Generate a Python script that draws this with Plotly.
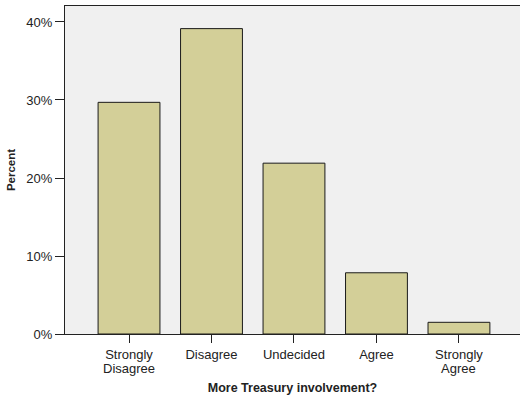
import plotly.graph_objects as go

categories = ["Strongly Disagree", "Disagree", "Undecided", "Agree", "Strongly Agree"]
percent = [29.7, 39.15, 21.9, 7.85, 1.5]
y_ticks = [0, 10, 20, 30, 40]
y_tick_text = ["0%", "10%", "20%", "30%", "40%"]

font_family = "Liberation Sans, Arial, sans-serif"
x_pos = list(range(len(categories)))

# Two-word categories wrap onto a second, tightly spaced line
first_lines = [c.split(" ")[0] for c in categories]
second_lines = [" ".join(c.split(" ")[1:]) for c in categories]

fig = go.Figure(
    go.Bar(
        x=x_pos,
        y=percent,
        width=0.75,
        marker=dict(color="#d3cf98", line=dict(color="#1a1a1a", width=1)),
        hoverinfo="skip",
    )
)

for xp, txt in zip(x_pos, second_lines):
    if txt:
        fig.add_annotation(
            x=xp, xref="x", y=0, yref="paper",
            yanchor="top", yshift=-25.5,
            text=txt, showarrow=False, borderpad=0,
            font=dict(size=13, color="#222"),
        )

fig.update_layout(
    width=520,
    height=396,
    margin=dict(l=65, r=0, t=6, b=62),
    paper_bgcolor="white",
    plot_bgcolor="#f0f0f0",
    showlegend=False,
    font=dict(family=font_family, size=13, color="#222"),
)

fig.update_xaxes(
    range=[-0.776, 4.74],
    tickmode="array",
    tickvals=x_pos,
    ticktext=first_lines,
    ticks="outside",
    ticklen=8,
    tickcolor="#222",
    showline=True,
    linecolor="#222",
    linewidth=1,
    mirror=True,
    showgrid=False,
    zeroline=False,
    tickfont=dict(size=13),
    title=dict(text="<b>More Treasury involvement?</b>", font=dict(size=12.5), standoff=22),
)

fig.update_yaxes(
    range=[0, 42.05],
    tickmode="array",
    tickvals=y_ticks,
    ticktext=y_tick_text,
    ticks="outside",
    ticklen=9,
    tickcolor="#222",
    showline=True,
    linecolor="#222",
    linewidth=1,
    showgrid=False,
    zeroline=False,
    tickfont=dict(size=13),
    title=dict(text="<b>Percent</b>", font=dict(size=11.5), standoff=8),
)

fig.write_html("out.html")
